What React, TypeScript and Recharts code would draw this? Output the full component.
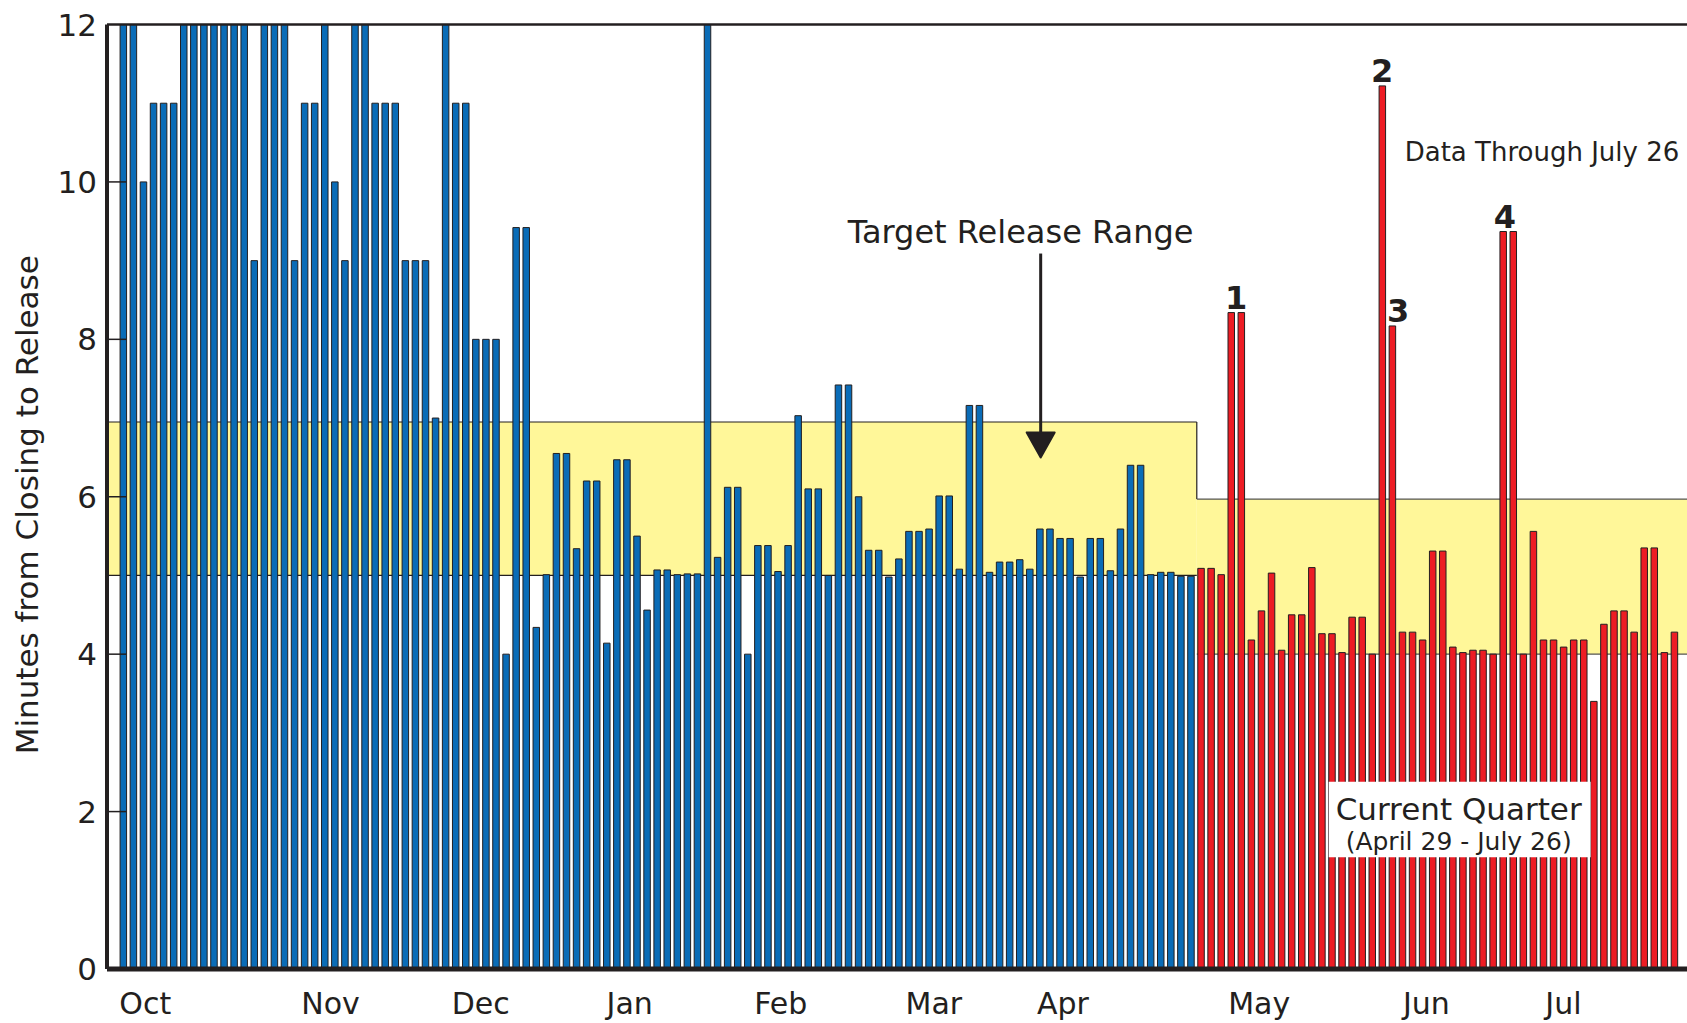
import React from 'react';
import {
  BarChart,
  Bar,
  XAxis,
  YAxis,
  Cell,
  ReferenceArea,
  ReferenceLine,
  ReferenceDot,
  Label,
} from 'recharts';

// Minutes from closing to release, prior period (Oct - Apr), one value per trading day
const priorValues = [
  12, 12, 10, 11, 11, 11, 12, 12, 12, 12, 12, 12, 12, 9, 12, 12, 12, 9,
  11, 11, 12, 10, 9, 12, 12, 11, 11, 11, 9, 9, 9, 7, 12, 11, 11, 8, 8, 8,
  4, 9.42, 9.42, 4.34, 5.01, 6.55, 6.55, 5.34, 6.2, 6.2, 4.14, 6.47, 6.47,
  5.5, 4.56, 5.07, 5.07, 5.01, 5.02, 5.02, 12, 5.23, 6.12, 6.12, 4.0, 5.38,
  5.38, 5.05, 5.38, 7.03, 6.1, 6.1, 5.0, 7.42, 7.42, 6.0, 5.32, 5.32, 4.98,
  5.21, 5.56, 5.56, 5.59, 6.01, 6.01, 5.08, 7.16, 7.16, 5.04, 5.17, 5.17,
  5.2, 5.08, 5.59, 5.59, 5.47, 5.47, 4.98, 5.47, 5.47, 5.06, 5.59, 6.4, 6.4,
  5.01, 5.04, 5.04, 4.99, 4.99,
];

// Current quarter (April 29 - July 26)
const currentValues = [
  5.09, 5.09, 5.01, 8.34, 8.34, 4.18, 4.55, 5.03, 4.05, 4.5, 4.5, 5.1, 4.26,
  4.26, 4.02, 4.47, 4.47, 4.0, 11.22, 8.17, 4.28, 4.28, 4.18, 5.31, 5.31,
  4.09, 4.02, 4.05, 4.05, 4.0, 9.37, 9.37, 4.0, 5.56, 4.18, 4.18, 4.09, 4.18,
  4.18, 3.4, 4.38, 4.55, 4.55, 4.28, 5.35, 5.35, 4.02, 4.28,
];

const monthLabels = ['Oct', 'Nov', 'Dec', 'Jan', 'Feb', 'Mar', 'Apr', 'May', 'Jun', 'Jul'];
const monthPositions = [2.2, 20.6, 35.5, 50.3, 65.3, 80.5, 93.3, 112.8, 129.4, 143.0];
const yTicks = [0, 2, 4, 6, 8, 10, 12];
const innerTicks = [2, 4, 6, 8, 10];

const priorRange = [5, 6.95];
const currentRange = [4, 5.97];
const quarterBoundary = 106.6;

const peakLabels = ['1', '2', '3', '4'];
const peakX = [110.5, 125, 126.6, 137.2];
const peakY = [8.34, 11.22, 8.17, 9.37];

const X_MIN = -1.6;
const X_MAX = 155.27;

const BLUE = '#0a6cb7';
const RED = '#ed1c24';
const YELLOW = '#fff799';
const INK = '#231f20';
const FONT = 'DejaVu Sans';

const data = [
  ...priorValues.map((v, i) => ({ day: i, value: v, current: false })),
  ...currentValues.map((v, i) => ({ day: priorValues.length + i, value: v, current: true })),
];

const textShape = (txt: string, size: number, anchor: string, weight = 'normal', dy = 0) =>
  (p: any) => (
    <text
      x={p.cx}
      y={p.cy + dy}
      textAnchor={anchor}
      fontSize={size}
      fontFamily={FONT}
      fontWeight={weight}
      fill={INK}
    >
      {txt}
    </text>
  );

export default function App() {
  return (
    <div style={{ position: 'absolute', left: 0, top: 0, background: '#fff' }}>
      <BarChart
        width={1687}
        height={1023}
        data={data}
        margin={{ top: 24.5, right: 0, bottom: 0, left: 0 }}
      >
        {/* target release ranges */}
        <ReferenceArea
          x1={X_MIN}
          x2={quarterBoundary}
          y1={priorRange[0]}
          y2={priorRange[1]}
          fill={YELLOW}
          fillOpacity={1}
          stroke="none"
          ifOverflow="visible"
          zIndex={100}
        />
        <ReferenceArea
          x1={quarterBoundary}
          x2={X_MAX}
          y1={currentRange[0]}
          y2={currentRange[1]}
          fill={YELLOW}
          fillOpacity={1}
          stroke="none"
          ifOverflow="visible"
          zIndex={100}
        />
        <ReferenceLine segment={[{ x: X_MIN, y: priorRange[1] }, { x: quarterBoundary, y: priorRange[1] }]} stroke={INK} strokeWidth={1.2} ifOverflow="visible" zIndex={150} />
        <ReferenceLine segment={[{ x: X_MIN, y: priorRange[0] }, { x: quarterBoundary, y: priorRange[0] }]} stroke={INK} strokeWidth={1.2} ifOverflow="visible" zIndex={150} />
        <ReferenceLine segment={[{ x: quarterBoundary, y: priorRange[1] }, { x: quarterBoundary, y: currentRange[1] }]} stroke={INK} strokeWidth={1.2} ifOverflow="visible" zIndex={150} />
        <ReferenceLine segment={[{ x: quarterBoundary, y: currentRange[1] }, { x: X_MAX, y: currentRange[1] }]} stroke="#555" strokeWidth={1.2} ifOverflow="visible" zIndex={150} />
        <ReferenceLine segment={[{ x: quarterBoundary, y: currentRange[0] }, { x: X_MAX, y: currentRange[0] }]} stroke="#555" strokeWidth={1.2} ifOverflow="visible" zIndex={150} />

        <XAxis
          dataKey="day"
          type="number"
          domain={[X_MIN, X_MAX]}
          allowDataOverflow
          ticks={monthPositions}
          interval={0}
          tickFormatter={(v: number) => monthLabels[monthPositions.indexOf(v)]}
          height={54}
          tickLine={false}
          tickSize={6}
          tickMargin={18}
          axisLine={{ stroke: INK, strokeWidth: 5 }}
          tick={{ fill: INK, fontSize: 30, fontFamily: FONT }}
        />
        <YAxis
          type="number"
          domain={[0, 12]}
          ticks={yTicks}
          interval={0}
          width={107}
          tickLine={false}
          tickSize={6}
          tickMargin={4}
          axisLine={{ stroke: INK, strokeWidth: 4 }}
          tick={{ fill: INK, fontSize: 31, fontFamily: FONT }}
        >
          <Label
            content={(props: any) => {
              const vb = props.viewBox || { x: 0, y: 24.5, width: 107, height: 944.5 };
              const cx = vb.x + 37.6;
              const cy = vb.y + vb.height / 2 + 8;
              return (
                <text
                  x={cx}
                  y={cy}
                  transform={`rotate(-90 ${cx} ${cy})`}
                  textAnchor="middle"
                  fontSize={31}
                  fontFamily={FONT}
                  fill={INK}
                >
                  Minutes from Closing to Release
                </text>
              );
            }}
          />
        </YAxis>

        <Bar dataKey="value" isAnimationActive={false} barSize={6.5} stroke={INK} strokeWidth={1} zIndex={300}>
          {data.map((d) => (
            <Cell key={d.day} fill={d.current ? RED : BLUE} />
          ))}
        </Bar>

        {/* top frame */}
        <ReferenceLine y={12} stroke={INK} strokeWidth={2.5} ifOverflow="visible" zIndex={450} />
        {/* inner tick marks */}
        {innerTicks.map((t) => (
          <ReferenceLine
            key={t}
            segment={[{ x: X_MIN, y: t }, { x: X_MIN + 1.9, y: t }]}
            stroke={INK}
            strokeWidth={1.5}
            ifOverflow="visible"
            zIndex={450}
          />
        ))}

        {/* current quarter box */}
        <ReferenceArea
          x1={119.7}
          x2={145.7}
          y1={1.42}
          y2={2.38}
          fill="#ffffff"
          fillOpacity={1}
          stroke="none"
          ifOverflow="visible"
          zIndex={700}
        />
        <ReferenceDot x={132.6} y={1.89} r={0} ifOverflow="visible" zIndex={800} shape={textShape('Current Quarter', 31, 'middle')} />
        <ReferenceDot x={132.6} y={1.51} r={0} ifOverflow="visible" zIndex={800} shape={textShape('(April 29 - July 26)', 25, 'middle')} />

        {/* target range annotation */}
        <ReferenceDot x={89.1} y={9.22} r={0} ifOverflow="visible" zIndex={800} shape={textShape('Target Release Range', 32, 'middle')} />
        <ReferenceLine segment={[{ x: 91.1, y: 9.09 }, { x: 91.1, y: 6.75 }]} stroke={INK} strokeWidth={3} ifOverflow="visible" zIndex={800} />
        <ReferenceDot
          x={91.1}
          y={6.5}
          r={0}
          ifOverflow="visible"
          zIndex={800}
          shape={(p: any) => (
            <polygon
              points={`${p.cx},${p.cy} ${p.cx - 14},${p.cy - 25} ${p.cx + 14},${p.cy - 25}`}
              fill={INK}
              stroke={INK}
              strokeLinejoin="round"
              strokeWidth={2}
            />
          )}
        />

        <ReferenceDot x={154.5} y={10.27} r={0} ifOverflow="visible" zIndex={800} shape={textShape('Data Through July 26', 26, 'end')} />

        {peakLabels.map((lab, k) => (
          <ReferenceDot
            key={lab}
            x={peakX[k]}
            y={peakY[k]}
            r={0}
            ifOverflow="visible"
            zIndex={800}
            shape={textShape(lab, 32, 'middle', 'bold', -4)}
          />
        ))}
      </BarChart>
    </div>
  );
}
